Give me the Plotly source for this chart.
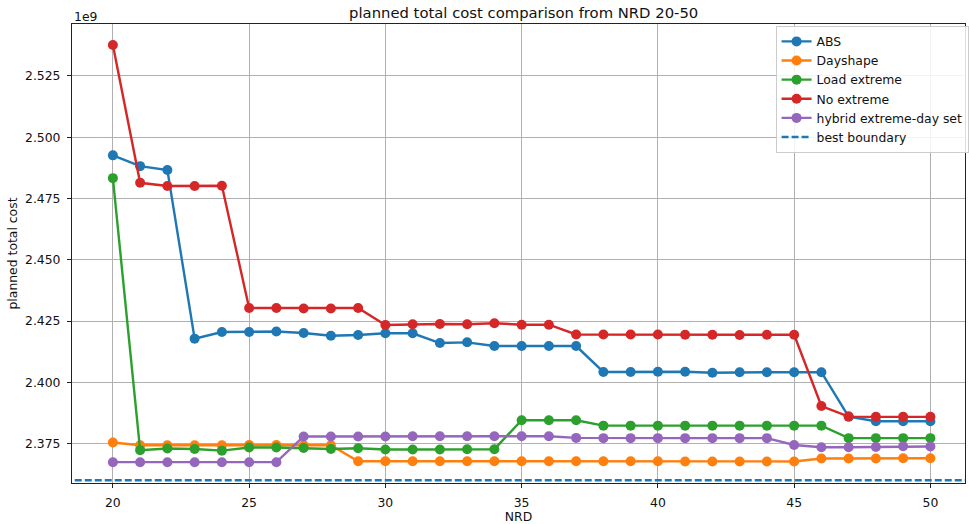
import plotly.graph_objects as go

nrd = list(range(20, 51))

abs_cost = [2.4926, 2.4882, 2.4866, 2.4178, 2.4205, 2.4205, 2.4207, 2.4201, 2.4190, 2.4193,
            2.4200, 2.4200, 2.4160, 2.4163, 2.4148, 2.4148, 2.4148, 2.4148, 2.4042, 2.4042,
            2.4043, 2.4043, 2.4039, 2.4041, 2.4041, 2.4041, 2.4041, 2.3860, 2.3841, 2.3841, 2.3841]
dayshape = [2.3754, 2.3743, 2.3743, 2.3743, 2.3743, 2.3744, 2.3744, 2.3743, 2.3743, 2.3678,
            2.3678, 2.3678, 2.3678, 2.3678, 2.3678, 2.3678, 2.3678, 2.3678, 2.3678, 2.3678,
            2.3678, 2.3677, 2.3677, 2.3677, 2.3677, 2.3677, 2.3689, 2.3689, 2.3689, 2.3690, 2.3690]
load_extreme = [2.4833, 2.3723, 2.3730, 2.3728, 2.3721, 2.3734, 2.3734, 2.3732, 2.3728, 2.3731,
                2.3726, 2.3726, 2.3726, 2.3727, 2.3727, 2.3845, 2.3845, 2.3845, 2.3823, 2.3823,
                2.3823, 2.3823, 2.3823, 2.3823, 2.3823, 2.3823, 2.3823, 2.3772, 2.3772, 2.3772, 2.3772]
no_extreme = [2.5376, 2.4814, 2.4801, 2.4801, 2.4802, 2.4303, 2.4303, 2.4301, 2.4301, 2.4303,
              2.4234, 2.4237, 2.4238, 2.4237, 2.4241, 2.4235, 2.4235, 2.4195, 2.4195, 2.4195,
              2.4195, 2.4194, 2.4194, 2.4193, 2.4194, 2.4194, 2.3903, 2.3860, 2.3859, 2.3859, 2.3859]
hybrid = [2.3674, 2.3674, 2.3674, 2.3674, 2.3674, 2.3674, 2.3674, 2.3779, 2.3779, 2.3779,
          2.3779, 2.3780, 2.3780, 2.3780, 2.3780, 2.3780, 2.3780, 2.3773, 2.3772, 2.3772,
          2.3772, 2.3772, 2.3772, 2.3772, 2.3772, 2.3744, 2.3735, 2.3735, 2.3736, 2.3739, 2.3738]
best_boundary = 2.3600

series = [
    ("ABS", abs_cost, "#1f77b4"),
    ("Dayshape", dayshape, "#ff7f0e"),
    ("Load extreme", load_extreme, "#2ca02c"),
    ("No extreme", no_extreme, "#d62728"),
    ("hybrid extreme-day set", hybrid, "#9467bd"),
]

x_range = [18.5, 51.27]
y_range = [2.3589, 2.5462]
xticks = [20, 25, 30, 35, 40, 45, 50]
yticks = [2.375, 2.400, 2.425, 2.450, 2.475, 2.500, 2.525]

font = "DejaVu Sans"
fs = 12.4
txt = "#111111"
fig = go.Figure()
for name, vals, color in series:
    fig.add_trace(go.Scatter(
        x=nrd, y=vals, name=name, mode="lines+markers",
        line=dict(color=color, width=2.4),
        marker=dict(color=color, size=10),
    ))
fig.add_trace(go.Scatter(
    x=[x_range[0] - 1, x_range[1] + 1], y=[best_boundary, best_boundary],
    name="best boundary", mode="lines",
    line=dict(color="#1f77b4", width=2.4, dash="7px,3px"),
))

axis_common = dict(
    showline=True, mirror=True, linecolor="#222222", linewidth=1,
    ticks="outside", ticklen=4, tickcolor="#222222", ticklabelstandoff=4,
    showgrid=True, gridcolor="#b0b0b0", gridwidth=1, zeroline=False,
    tickfont=dict(family=font, size=fs, color=txt),
)
fig.update_xaxes(range=x_range, tickvals=xticks, ticktext=[str(t) for t in xticks],
                 title=dict(text="NRD", font=dict(family=font, size=fs, color=txt), standoff=3),
                 **axis_common)
fig.update_yaxes(range=y_range, tickvals=yticks, ticktext=[f"{t:.3f}" for t in yticks],
                 title=dict(text="planned total cost", font=dict(family=font, size=fs, color=txt), standoff=4),
                 **axis_common)

fig.update_layout(
    width=969, height=524,
    margin=dict(l=72, r=0, t=24, b=41),
    paper_bgcolor="white", plot_bgcolor="white",
    font=dict(family=font, color=txt),
    title=dict(text="planned total cost comparison from NRD 20-50", x=0.5404, xanchor="center",
               y=0.975, yanchor="middle", font=dict(family=font, size=14.8, color=txt)),
    legend=dict(x=1.004, xanchor="right", y=0.996, yanchor="top",
                bgcolor="rgba(255,255,255,0.85)", bordercolor="#cccccc", borderwidth=1,
                font=dict(family=font, size=fs, color=txt), tracegroupgap=0,
                itemwidth=30),
    showlegend=True,
    annotations=[dict(text="1e9", xref="paper", yref="paper", x=0, y=1, xanchor="left", yanchor="bottom",
                      showarrow=False, font=dict(family=font, size=fs, color=txt), yshift=-2)],
)

fig.write_html("out.html")
